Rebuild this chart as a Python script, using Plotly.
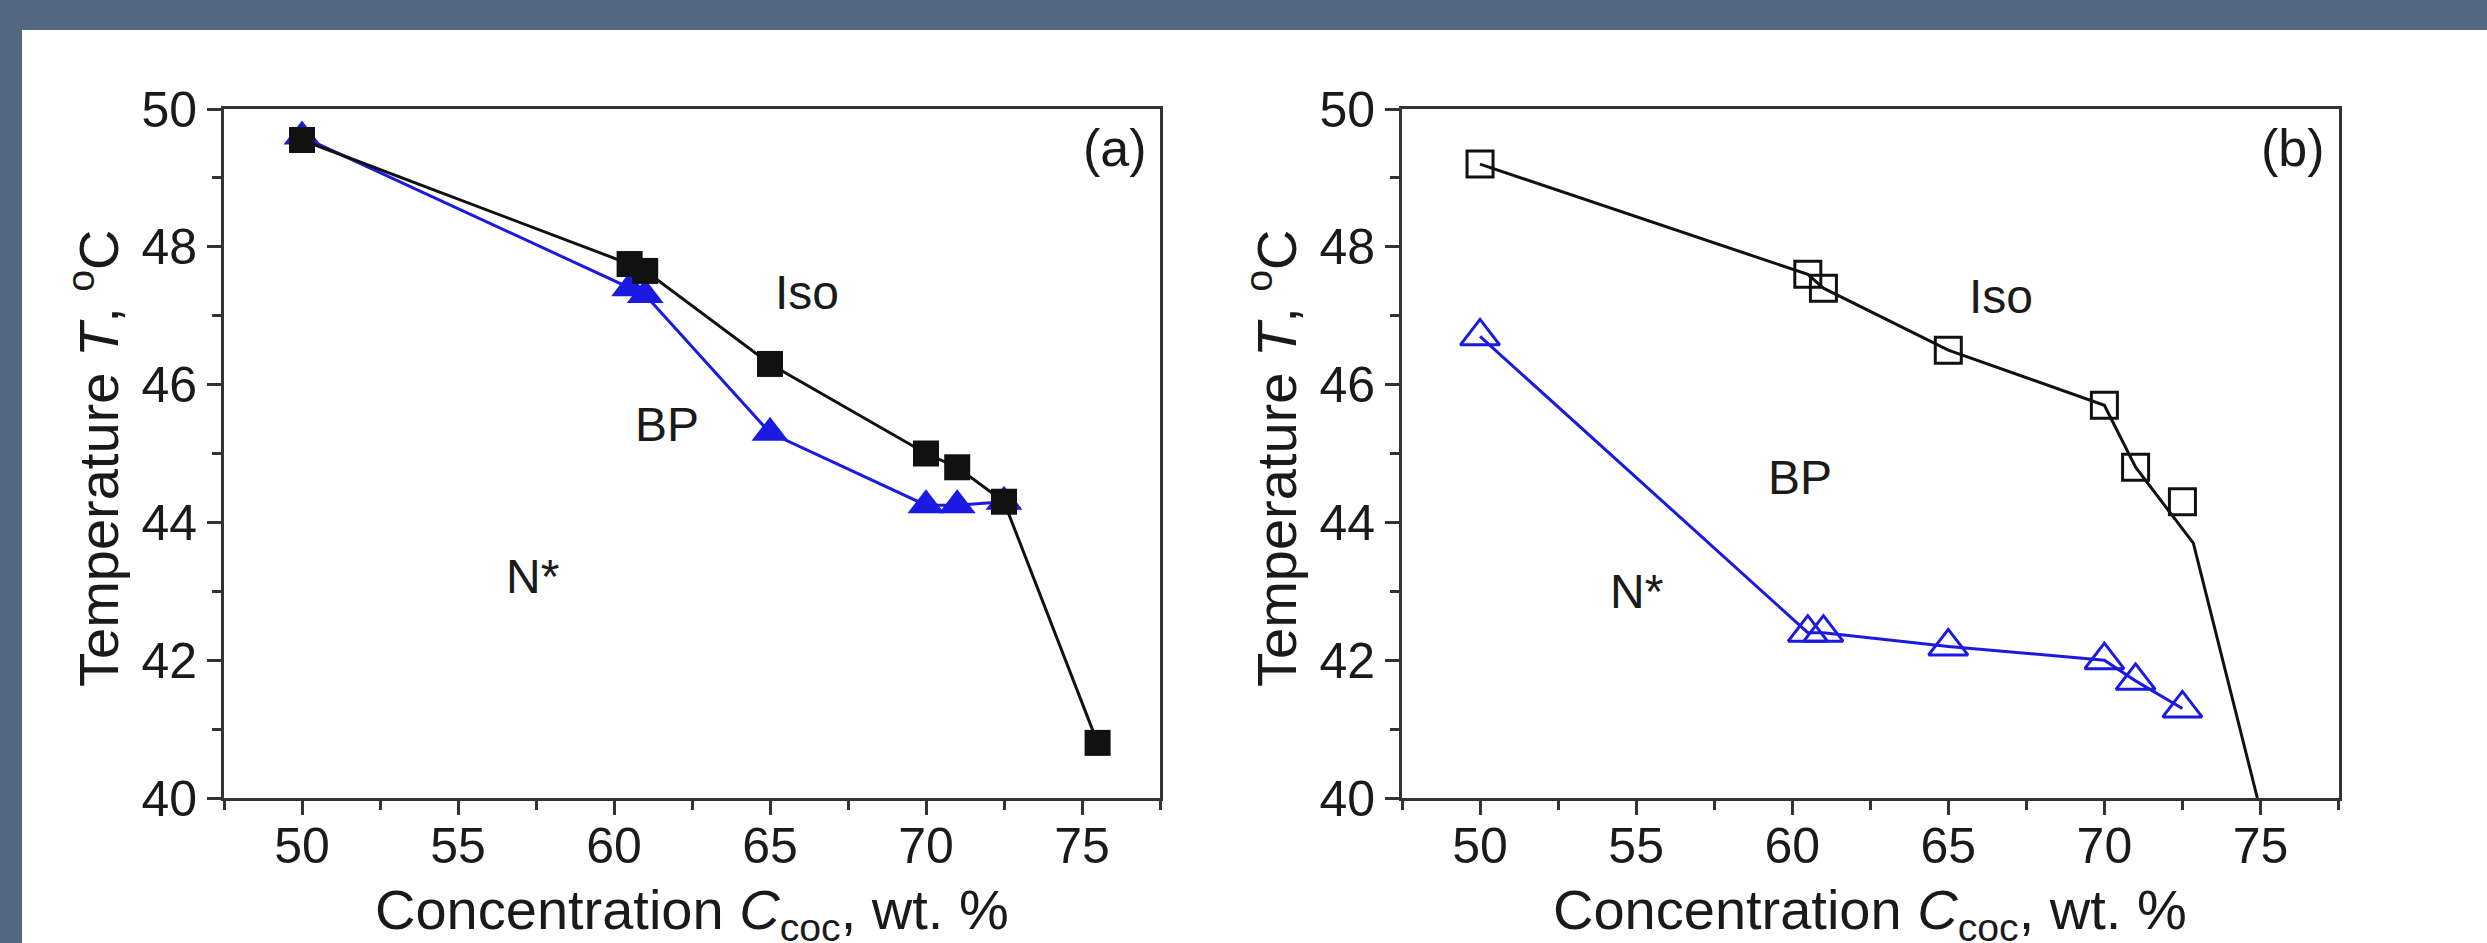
import plotly.graph_objects as go

# ---------------- data ----------------
# Panel (a)
conc_iso_a = [50, 60.5, 61, 65, 70, 71, 72.5, 75.5]
temp_iso_a = [49.55, 47.75, 47.65, 46.3, 45.0, 44.8, 44.3, 40.8]
conc_bp_a = [50, 60.5, 61, 65, 70, 71, 72.5]
temp_bp_a = [49.6, 47.4, 47.3, 45.3, 44.25, 44.25, 44.3]

# Panel (b)
conc_b = [50, 60.5, 61, 65, 70, 71, 72.5]
temp_iso_b = [49.2, 47.6, 47.4, 46.5, 45.7, 44.8, 44.3]
temp_bp_b = [46.7, 42.4, 42.4, 42.2, 42.0, 41.7, 41.3]
boundary_x_b = [50, 60.5, 61, 65, 70, 71, 72.85, 74.9]
boundary_y_b = [49.2, 47.6, 47.4, 46.5, 45.7, 44.8, 43.7, 40.0]

# region labels
region_labels = ["Iso", "BP", "N*"]
label_x_a = [66.2, 61.7, 57.4]
label_y_a = [47.33, 45.42, 43.22]
label_x_b = [66.7, 60.25, 55.0]
label_y_b = [47.28, 44.65, 43.0]
panel_tags = ["(a)", "(b)"]

x_ticks = [50, 55, 60, 65, 70, 75]
y_ticks = [40, 42, 44, 46, 48, 50]

# ---------------- style ----------------
FONT = "Liberation Sans, Arial, Helvetica, sans-serif"
BLUE = "#1a1ae0"
BLACK = "#111111"
AXC = "#333333"
TXT = "#1a1a1a"
BG_DARK = "#546882"

W, H = 2487, 943
fig = go.Figure()

# panel (a)
fig.add_trace(go.Scatter(x=conc_bp_a, y=temp_bp_a, mode="lines+markers",
                         line=dict(color=BLUE, width=3),
                         marker=dict(symbol="triangle-up", size=32, color=BLUE),
                         xaxis="x", yaxis="y", showlegend=False))
fig.add_trace(go.Scatter(x=conc_iso_a, y=temp_iso_a, mode="lines+markers",
                         line=dict(color=BLACK, width=3),
                         marker=dict(symbol="square", size=26, color=BLACK),
                         xaxis="x", yaxis="y", showlegend=False))

# panel (b)
fig.add_trace(go.Scatter(x=boundary_x_b, y=boundary_y_b, mode="lines",
                         line=dict(color=BLACK, width=3),
                         xaxis="x2", yaxis="y2", showlegend=False))
fig.add_trace(go.Scatter(x=conc_b, y=temp_iso_b, mode="markers",
                         marker=dict(symbol="square-open", size=26, color=BLACK,
                                     line=dict(width=3, color=BLACK)),
                         xaxis="x2", yaxis="y2", showlegend=False))
fig.add_trace(go.Scatter(x=conc_b, y=temp_bp_b, mode="lines+markers",
                         line=dict(color=BLUE, width=3),
                         marker=dict(symbol="triangle-up-open", size=34, color=BLUE,
                                     line=dict(width=3, color=BLUE)),
                         xaxis="x2", yaxis="y2", showlegend=False))

xdom_a = [224 / W, 1160 / W]
xdom_b = [1402 / W, 2338.5 / W]
ydom = [(H - 798) / H, (H - 109) / H]

def xaxis_cfg(dom, anchor):
    return dict(domain=dom, anchor=anchor, range=[47.5, 77.5], automargin=False,
                tickmode="array", tickvals=x_ticks, ticklabelstandoff=-12,
                ticks="outside", ticklen=14, tickwidth=3, tickcolor=AXC,
                minor=dict(ticks="outside", ticklen=9, tickwidth=3, tickcolor=AXC,
                           dtick=2.5, tick0=47.5, showgrid=False),
                showline=True, linewidth=3, linecolor=AXC, mirror=True,
                showgrid=False, zeroline=False,
                tickfont=dict(family=FONT, size=50, color=TXT))

def yaxis_cfg(anchor):
    return dict(domain=ydom, anchor=anchor, range=[40, 50], automargin=False,
                tickmode="array", tickvals=y_ticks,
                ticks="outside", ticklen=14, tickwidth=3, tickcolor=AXC,
                minor=dict(ticks="outside", ticklen=9, tickwidth=3, tickcolor=AXC,
                           dtick=1, tick0=40, showgrid=False),
                showline=True, linewidth=3, linecolor=AXC, mirror=True,
                showgrid=False, zeroline=False,
                tickfont=dict(family=FONT, size=50, color=TXT))

annotations = []
for xr, yr, lx, ly in [("x", "y", label_x_a, label_y_a), ("x2", "y2", label_x_b, label_y_b)]:
    for t, xv, yv in zip(region_labels, lx, ly):
        annotations.append(dict(x=xv, y=yv, xref=xr, yref=yr, text=t, showarrow=False,
                                font=dict(family=FONT, size=48, color=TXT)))
for tag, xr, yr in zip(panel_tags, ["x domain", "x2 domain"], ["y domain", "y2 domain"]):
    annotations.append(dict(x=0.988, y=0.943, xref=xr, yref=yr,
                            text=tag, showarrow=False, xanchor="right", yanchor="middle",
                            font=dict(family=FONT, size=52, color=TXT)))

# axis titles
for dom in (xdom_a, xdom_b):
    annotations.append(dict(x=(dom[0] + dom[1]) / 2, y=(H - 913) / H, xref="paper", yref="paper",
                            text="Concentration <i>C</i><sub>coc</sub>, wt. %", showarrow=False,
                            xanchor="center", yanchor="middle",
                            font=dict(family=FONT, size=56, color=TXT)))
    annotations.append(dict(x=(dom[0] * W - 130) / W, y=(H - 458) / H, xref="paper", yref="paper",
                            text="Temperature <i>T</i>, <sup>o</sup>C", showarrow=False,
                            textangle=-90, xanchor="center", yanchor="middle",
                            font=dict(family=FONT, size=56, color=TXT)))

shapes = [
    dict(type="rect", xref="paper", yref="paper", x0=0, x1=1, y0=(H - 30) / H, y1=1,
         fillcolor=BG_DARK, line=dict(width=0), layer="below"),
    dict(type="rect", xref="paper", yref="paper", x0=0, x1=22 / W, y0=0, y1=1,
         fillcolor=BG_DARK, line=dict(width=0), layer="below"),
]

fig.update_layout(
    width=W, height=H, autosize=False,
    margin=dict(l=0, r=0, t=0, b=0, pad=0, autoexpand=False),
    paper_bgcolor="white", plot_bgcolor="white",
    xaxis=xaxis_cfg(xdom_a, "y"), yaxis=yaxis_cfg("x"),
    xaxis2=xaxis_cfg(xdom_b, "y2"), yaxis2=yaxis_cfg("x2"),
    annotations=annotations, shapes=shapes,
    font=dict(family=FONT),
)

fig.write_html("out.html", config={"displayModeBar": False},
               post_script="document.body.style.margin='0';document.body.style.overflow='hidden';")
